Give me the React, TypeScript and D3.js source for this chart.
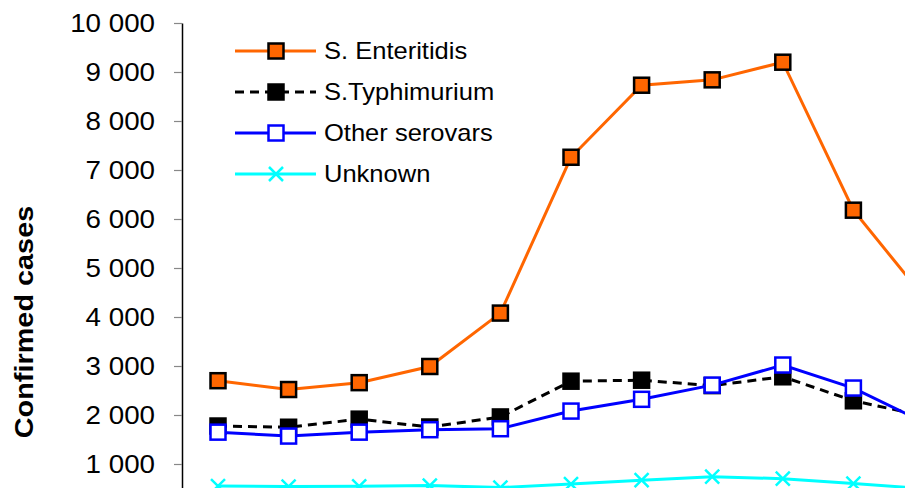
import React from 'react';
import * as d3 from 'd3';

// x labels are cut off in the picture, so just use the point order
const categories = ['p1', 'p2', 'p3', 'p4', 'p5', 'p6', 'p7', 'p8', 'p9', 'p10', 'p11'];
const enteritidis = [2700, 2520, 2660, 2990, 4080, 7260, 8730, 8840, 9200, 6180, 4400];
const typhimurium = [1775, 1750, 1915, 1755, 1960, 2690, 2710, 2600, 2780, 2290, 1980];
const otherSerovars = [1650, 1570, 1650, 1700, 1720, 2080, 2320, 2610, 3020, 2550, 1850];
const unknown = [550, 540, 545, 560, 520, 590, 670, 740, 700, 600, 500];
const yTicks = [1000, 2000, 3000, 4000, 5000, 6000, 7000, 8000, 9000, 10000];

const W = 905;
const H = 488;
const FONT = '"Liberation Sans", Arial, sans-serif';
const STRETCH = 1.11; // the original type is a bit wider than Liberation Sans

type Series = {
    name: string;
    values: number[];
    color: string;
    dash?: string;
    marker: 'sqOrange' | 'sqBlack' | 'sqWhite' | 'cross';
};

const series: Series[] = [
    { name: 'S. Enteritidis', values: enteritidis, color: '#ff6600', marker: 'sqOrange' },
    { name: 'S.Typhimurium', values: typhimurium, color: '#000000', dash: '9,6', marker: 'sqBlack' },
    { name: 'Other serovars', values: otherSerovars, color: '#0000ff', marker: 'sqWhite' },
    { name: 'Unknown', values: unknown, color: '#00ffff', marker: 'cross' },
];

const fmt = d3.formatLocale({ decimal: '.', thousands: ' ', grouping: [3], currency: ['', ''] }).format(',');

const Marker = ({ kind, x, y }: { kind: Series['marker']; x: number; y: number }) => {
    const s = 15;
    if (kind === 'cross') {
        const h = 7;
        return (
            <path
                d={`M${x - h},${y - h}L${x + h},${y + h}M${x - h},${y + h}L${x + h},${y - h}`}
                stroke='#00ffff'
                strokeWidth={2.5}
            />
        );
    }
    const fill = kind === 'sqOrange' ? '#ff6600' : kind === 'sqBlack' ? '#000000' : '#ffffff';
    const stroke = kind === 'sqWhite' ? '#0000ff' : '#000000';
    return <rect x={x - s / 2} y={y - s / 2} width={s} height={s} fill={fill} stroke={stroke} strokeWidth={2.5} />;
};

const App = () => {
    const x = d3.scaleLinear().domain([0, categories.length - 1]).range([218, 218 + 70.6 * (categories.length - 1)]);
    const y = d3.scaleLinear().domain([0, 10000]).range([513, 23]);
    const line = d3
        .line<number>()
        .x((_, i) => x(i))
        .y(d => y(d));

    const axisRef = (g: SVGGElement | null) => {
        if (!g) return;
        const sel = d3.select(g);
        sel.selectAll('*').remove();
        sel.call(d3.axisLeft(y).tickValues(yTicks).tickSize(8).tickSizeOuter(0).tickPadding(27).tickFormat(d => fmt(d as number)));
        sel.select('.domain').attr('stroke', '#000').attr('stroke-width', 1.5);
        sel.selectAll('.tick line').attr('stroke', '#888').attr('stroke-width', 1.2);
        sel.selectAll('.tick text')
            .attr('fill', '#000')
            .attr('font-size', 25)
            .attr('font-family', FONT)
            .attr('x', -27 / STRETCH)
            .attr('transform', `scale(${STRETCH},1)`);
    };

    return (
        <svg width={W} height={H} style={{ position: 'absolute', left: 0, top: 0, background: '#fff' }}>
            <rect width={W} height={H} fill='#fff' />
            <g ref={axisRef} transform='translate(182,0)' />
            <text
                transform={`translate(33,322) rotate(-90) scale(${STRETCH},1)`}
                textAnchor='middle'
                fontFamily={FONT}
                fontWeight='bold'
                fontSize={26}
            >
                Confirmed cases
            </text>
            {series.map(s => (
                <g key={s.name}>
                    <path
                        d={line(s.values) || ''}
                        fill='none'
                        stroke={s.color}
                        strokeWidth={3}
                        strokeDasharray={s.dash}
                    />
                    {s.values.map((v, i) => (
                        <Marker key={i} kind={s.marker} x={x(i)} y={y(v)} />
                    ))}
                </g>
            ))}
            <g>
                {series.map((s, i) => {
                    const ly = 51 + i * 41;
                    return (
                        <g key={s.name}>
                            <line x1={235} x2={316} y1={ly} y2={ly} stroke={s.color} strokeWidth={3} strokeDasharray={s.dash} />
                            <Marker kind={s.marker} x={276} y={ly} />
                            <text
                                transform={`translate(324,${ly + 8}) scale(${STRETCH},1)`}
                                fontFamily={FONT}
                                fontSize={23}
                            >
                                {s.name}
                            </text>
                        </g>
                    );
                })}
            </g>
        </svg>
    );
};

export default App;
